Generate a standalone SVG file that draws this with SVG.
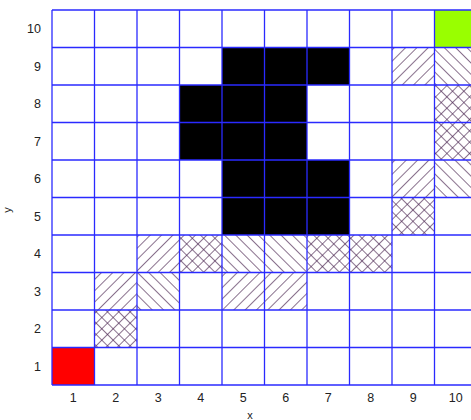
<svg xmlns="http://www.w3.org/2000/svg" width="471" height="420" viewBox="0 0 471 420">
<defs>
<pattern id="fwd" patternUnits="userSpaceOnUse" width="8" height="8" patternTransform="rotate(45)">
<line x1="0" y1="0" x2="0" y2="8" stroke="#4a2450" stroke-width="1.3"/>
</pattern>
<pattern id="back" patternUnits="userSpaceOnUse" width="8" height="8" patternTransform="rotate(-45)">
<line x1="0" y1="0" x2="0" y2="8" stroke="#4a2450" stroke-width="1.3"/>
</pattern>
<pattern id="cross" patternUnits="userSpaceOnUse" width="8" height="8" patternTransform="rotate(45)">
<line x1="0" y1="0" x2="0" y2="8" stroke="#4a2450" stroke-width="1.3"/>
<line x1="0" y1="0" x2="8" y2="0" stroke="#4a2450" stroke-width="1.3"/>
</pattern>
</defs>
<style>
.lbl{font-family:"Liberation Sans",Arial,sans-serif;font-size:12.5px;fill:#222}
.xl{text-anchor:middle}
.yl{text-anchor:end}
.f{fill:url(#fwd)}
.b{fill:url(#back)}
.c{fill:url(#cross)}
.grid line{stroke:#2a2aff;stroke-width:1.3}
</style>
<rect width="471" height="420" fill="#fff"/>
<g id="cells">
<rect x="52" y="347.5" width="42.5" height="37.5" fill="#ff0000"/>
<rect x="434.5" y="10" width="42.5" height="37.5" fill="#99ff00"/>
<rect x="222" y="47.5" width="127.5" height="37.5" fill="#000"/>
<rect x="179.5" y="85" width="127.5" height="75" fill="#000"/>
<rect x="222" y="160" width="127.5" height="75" fill="#000"/>
<rect class="f" x="392" y="47.5" width="42.5" height="37.5"/>
<rect class="f" x="392" y="160" width="42.5" height="37.5"/>
<rect class="f" x="137" y="235" width="42.5" height="37.5"/>
<rect class="f" x="94.5" y="272.5" width="42.5" height="37.5"/>
<rect class="f" x="222" y="272.5" width="85" height="37.5"/>
<rect class="b" x="434.5" y="47.5" width="42.5" height="37.5"/>
<rect class="b" x="434.5" y="160" width="42.5" height="37.5"/>
<rect class="b" x="222" y="235" width="85" height="37.5"/>
<rect class="b" x="137" y="272.5" width="42.5" height="37.5"/>
<rect class="c" x="434.5" y="85" width="42.5" height="75"/>
<rect class="c" x="392" y="197.5" width="42.5" height="37.5"/>
<rect class="c" x="179.5" y="235" width="42.5" height="37.5"/>
<rect class="c" x="307" y="235" width="85" height="37.5"/>
<rect class="c" x="94.5" y="310" width="42.5" height="37.5"/>
</g>
<g id="grid" class="grid">
<line x1="52" y1="10" x2="52" y2="385"/>
<line x1="94.5" y1="10" x2="94.5" y2="385"/>
<line x1="137" y1="10" x2="137" y2="385"/>
<line x1="179.5" y1="10" x2="179.5" y2="385"/>
<line x1="222" y1="10" x2="222" y2="385"/>
<line x1="264.5" y1="10" x2="264.5" y2="385"/>
<line x1="307" y1="10" x2="307" y2="385"/>
<line x1="349.5" y1="10" x2="349.5" y2="385"/>
<line x1="392" y1="10" x2="392" y2="385"/>
<line x1="434.5" y1="10" x2="434.5" y2="385"/>
<line x1="52" y1="10" x2="471" y2="10"/>
<line x1="52" y1="47.5" x2="471" y2="47.5"/>
<line x1="52" y1="85" x2="471" y2="85"/>
<line x1="52" y1="122.5" x2="471" y2="122.5"/>
<line x1="52" y1="160" x2="471" y2="160"/>
<line x1="52" y1="197.5" x2="471" y2="197.5"/>
<line x1="52" y1="235" x2="471" y2="235"/>
<line x1="52" y1="272.5" x2="471" y2="272.5"/>
<line x1="52" y1="310" x2="471" y2="310"/>
<line x1="52" y1="347.5" x2="471" y2="347.5"/>
<line x1="52" y1="385" x2="471" y2="385"/>
</g>
<g id="xaxis" class="lbl xl">
<text x="73.25" y="402">1</text>
<text x="115.75" y="402">2</text>
<text x="158.25" y="402">3</text>
<text x="200.75" y="402">4</text>
<text x="243.25" y="402">5</text>
<text x="285.75" y="402">6</text>
<text x="328.25" y="402">7</text>
<text x="370.75" y="402">8</text>
<text x="413.25" y="402">9</text>
<text x="455.75" y="402">10</text>
<text x="250" y="419" font-size="11">x</text>
</g>
<g id="yaxis" class="lbl yl">
<text x="41" y="33">10</text>
<text x="41" y="70.5">9</text>
<text x="41" y="108">8</text>
<text x="41" y="145.5">7</text>
<text x="41" y="183">6</text>
<text x="41" y="220.5">5</text>
<text x="41" y="258">4</text>
<text x="41" y="295.5">3</text>
<text x="41" y="333">2</text>
<text x="41" y="370.5">1</text>
<text x="11" y="210" font-size="11" text-anchor="middle" transform="rotate(-90 11 210)">y</text>
</g>
</svg>
